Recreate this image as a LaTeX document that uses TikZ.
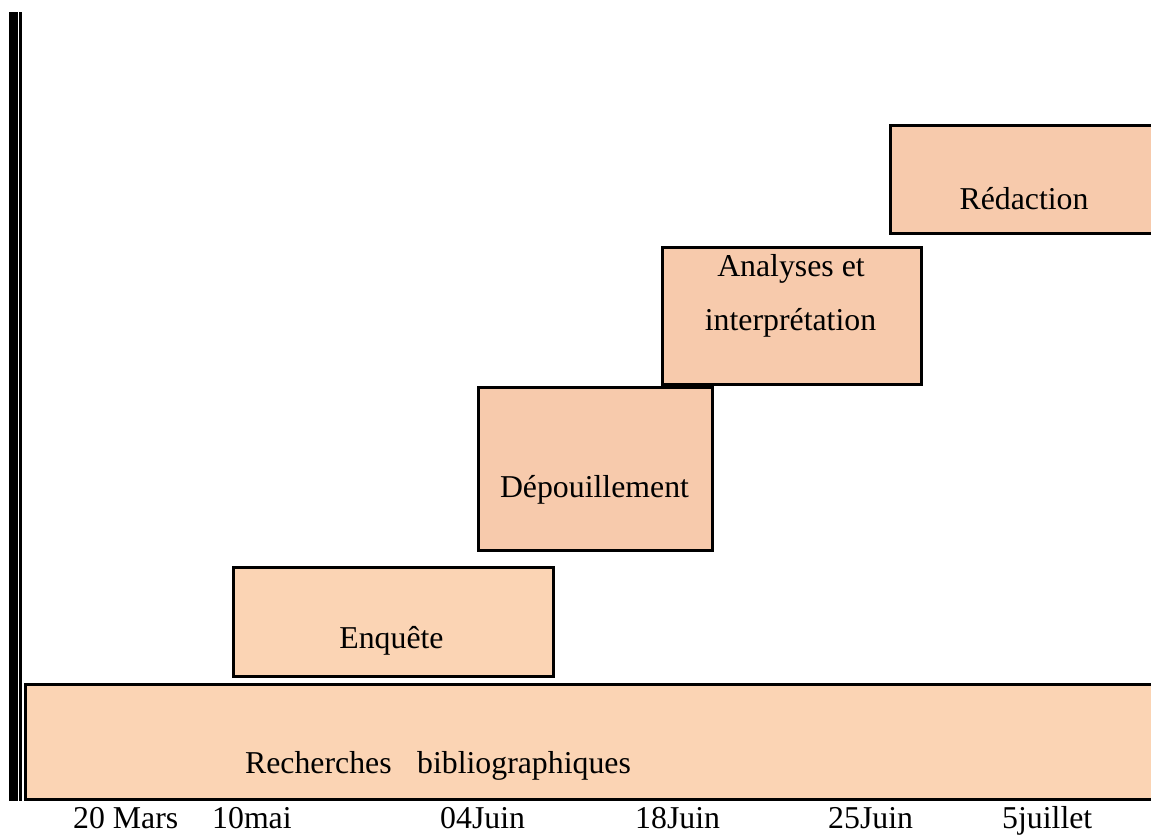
\documentclass[tikz,border=0pt]{standalone}
\usepackage{fontspec}
\setmainfont{Liberation Serif}
\definecolor{peachA}{HTML}{FBD4B4}
\definecolor{peachB}{HTML}{F7CAAC}
\tikzset{
  box/.style={draw=black, line width=3pt, inner sep=0pt, outer sep=0pt, anchor=north west},
  lbl/.style={inner sep=0pt, font=\fontsize{31.8}{37}\selectfont},
  datelbl/.style={lbl, anchor=base west},
}
\begin{document}
\begin{tikzpicture}[x=1pt,y=-1pt]
\path[use as bounding box] (0,0) rectangle (1151,836);
\clip (0,0) rectangle (1151,836);
% left axis
\fill[black] (9,12) rectangle (18,801);
\fill[black] (19,12) rectangle (21.5,801);
% boxes
\node[box, fill=peachA, minimum width=1150pt, minimum height=114.5pt] (bib) at (25.5,684.5) {};
\node[box, fill=peachA, minimum width=320pt, minimum height=109pt] (enq) at (233.5,567.5) {};
\node[box, fill=peachB, minimum width=234pt, minimum height=163pt] (dep) at (478,387) {};
\node[box, fill=peachB, minimum width=259pt, minimum height=137pt] (ana) at (662,247) {};
\node[box, fill=peachB, minimum width=300pt, minimum height=108pt] (red) at (890,125) {};
% box texts
\node[lbl, anchor=base] (tbib) at (438,773) {Recherches\hspace{0.8em}bibliographiques};
\node[lbl, anchor=base] (tenq) at (391.5,648) {Enquête};
\node[lbl, anchor=base] (tdep) at (594.5,497) {Dépouillement};
\node[lbl, anchor=base] (tana1) at (791,276) {Analyses et};
\node[lbl, anchor=base] (tana2) at (790.5,330) {interprétation};
\node[lbl, anchor=base] (tred) at (1024,209) {Rédaction};
% dates
\node[datelbl] (d1) at (73,828) {20 Mars};
\node[datelbl] (d2) at (212,828) {10mai};
\node[datelbl] (d3) at (440,828) {04Juin};
\node[datelbl] (d4) at (635,828) {18Juin};
\node[datelbl] (d5) at (828,828) {25Juin};
\node[datelbl] (d6) at (1002,828) {5juillet};
\end{tikzpicture}
\end{document}
